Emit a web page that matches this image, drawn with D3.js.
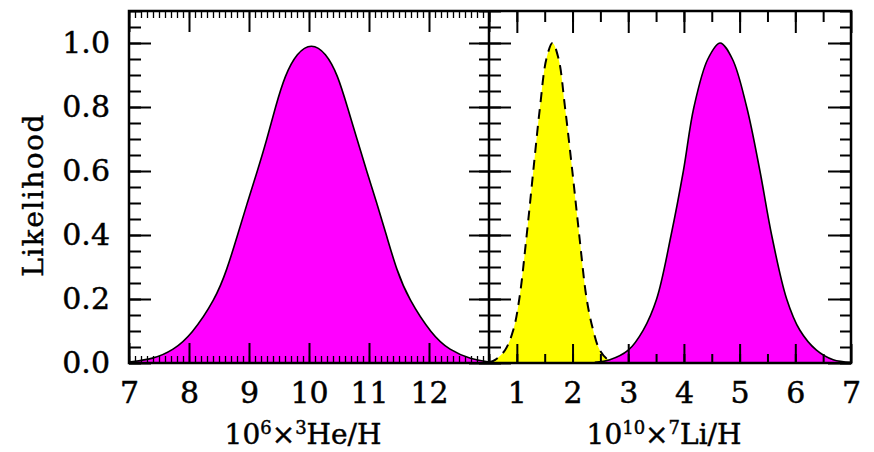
<!DOCTYPE html>
<html>
<head>
<meta charset="utf-8">
<script src="https://cdn.jsdelivr.net/npm/d3@7"></script>
<style>
  body{margin:0;background:#fff;}
  text{font-family:"DejaVu Serif",serif;fill:#000;stroke:#000;stroke-width:0.45px;}
</style>
</head>
<body>
<div id="Chart"></div>
<script>
// left panel: 3He/H likelihood
var heX=[7.0,7.4,7.74,8.04,8.44,8.63,8.81,8.97,9.14,9.3,9.44,9.6,9.8,10.04,10.28,10.48,10.64,10.8,10.96,11.13,11.29,11.46,11.66,12.05,12.34,12.7,13.0]
var heL=[0.003,0.012,0.04,0.088,0.2,0.29,0.4,0.5,0.6,0.7,0.8,0.9,0.97,1.0,0.97,0.9,0.8,0.7,0.6,0.5,0.4,0.29,0.2,0.088,0.04,0.012,0.003]
// right panel: 7Li/H, yellow (dashed) and magenta
var liAX=[0.5,0.61,0.787,0.936,1.044,1.177,1.295,1.416,1.53,1.64,1.75,1.864,1.996,2.12,2.254,2.37,2.49,2.64,2.8]
var liAL=[0.002,0.01,0.04,0.103,0.2,0.4,0.6,0.8,0.95,1.0,0.95,0.8,0.6,0.4,0.2,0.103,0.04,0.01,0.001]
var liBX=[2.4,2.67,3.0,3.27,3.51,3.77,3.99,4.18,4.43,4.65,4.87,5.127,5.365,5.575,5.845,6.08,6.38,6.68,7.0]
var liBL=[0.002,0.01,0.04,0.103,0.2,0.4,0.6,0.8,0.95,1.0,0.95,0.8,0.6,0.4,0.2,0.103,0.04,0.01,0.002]
var leftTicks=[7,8,9,10,11,12]
var rightTicks=[1,2,3,4,5,6,7]
var yTicks=[0,0.2,0.4,0.6,0.8,1.0]

var Width=874,Height=452
var yT=11,yB=363,xa=129,xm=489,xb=851

var svg=d3.select("#Chart").append("svg")
  .attr("width",Width).attr("height",Height)

var Y=d3.scaleLinear().domain([0,1.1]).range([yB,yT])
var X1=d3.scaleLinear().domain([7,13]).range([xa,xm])
var X2=d3.scaleLinear().domain([0.5,7]).range([xm,xb])

var defs=svg.append("defs")
defs.append("clipPath").attr("id","c1").append("rect")
  .attr("x",xa).attr("y",yT).attr("width",xm-xa).attr("height",yB-yT)
defs.append("clipPath").attr("id","c2").append("rect")
  .attr("x",xm).attr("y",yT).attr("width",xb-xm).attr("height",yB-yT)

function curve(g,X,xs,ls,fill,dash,cv){
  var pts=xs.map((d,i)=>[d,ls[i]])
  var area=d3.area().x(d=>X(d[0])).y0(Y(0)).y1(d=>Y(d[1])).curve(cv)
  var line=d3.line().x(d=>X(d[0])).y(d=>Y(d[1])).curve(cv)
  g.append("path").datum(pts).attr("d",area).attr("fill",fill)
  g.append("path").datum(pts).attr("d",line).attr("fill","none")
    .attr("stroke","#000").attr("stroke-width",dash?2:1.6)
    .attr("stroke-dasharray",dash?"10,7":null)
}
var p1=svg.append("g").attr("clip-path","url(#c1)")
curve(p1,X1,heX,heL,"#ff00ff",false,d3.curveBasis)
var p2=svg.append("g").attr("clip-path","url(#c2)")
curve(p2,X2,liAX,liAL,"#ffff00",true,d3.curveCatmullRom.alpha(0.5))
curve(p2,X2,liBX,liBL,"#ff00ff",false,d3.curveCatmullRom.alpha(0.5))

// ticks
function ax(axis,tr,vals,size,w,labels,pad){
  var g=svg.append("g").attr("transform",tr)
    .call(axis.tickValues(vals).tickSizeInner(size).tickSizeOuter(0)
      .tickPadding(pad||0).tickFormat(labels||""))
  g.select(".domain").remove()
  g.selectAll("line").attr("stroke","#000").attr("stroke-width",w)
  g.selectAll("text").attr("font-size",30).attr("font-family","DejaVu Serif")
  return g
}
var minorHe=d3.range(70,131).map(d=>d/10)
var minorLi=d3.range(1,14).map(d=>d/2)
var minorY=d3.range(0,23).map(d=>d*0.05)

// left panel x
ax(d3.axisBottom(X1),`translate(0,${yB})`,minorHe,-7,1.3)
ax(d3.axisBottom(X1),`translate(0,${yB})`,leftTicks,-20,2,d3.format("d"),19)
ax(d3.axisTop(X1),`translate(0,${yT})`,minorHe,-7,1.3)
ax(d3.axisTop(X1),`translate(0,${yT})`,leftTicks.concat([13]),-21,2)
// right panel x
ax(d3.axisBottom(X2),`translate(0,${yB})`,minorLi,-9,2)
ax(d3.axisBottom(X2),`translate(0,${yB})`,rightTicks,-19,2,d3.format("d"),19)
ax(d3.axisTop(X2),`translate(0,${yT})`,minorLi,-11,2)
ax(d3.axisTop(X2),`translate(0,${yT})`,rightTicks,-22,2)
// y ticks
ax(d3.axisLeft(Y),`translate(${xa},0)`,minorY,-12,2)
ax(d3.axisLeft(Y),`translate(${xa},0)`,yTicks,-22,2,d3.format(".1f"),19)
ax(d3.axisRight(Y),`translate(${xm},0)`,minorY,-10,2)
ax(d3.axisRight(Y),`translate(${xm},0)`,yTicks,-20,2)
ax(d3.axisLeft(Y),`translate(${xm},0)`,minorY,-12,2)
ax(d3.axisLeft(Y),`translate(${xm},0)`,yTicks,-22,2)
ax(d3.axisRight(Y),`translate(${xb},0)`,minorY,-11,2)
ax(d3.axisRight(Y),`translate(${xb},0)`,yTicks,-23,2)

// frame
svg.append("rect").attr("x",xa).attr("y",yT).attr("width",xb-xa).attr("height",yB-yT)
  .attr("fill","none").attr("stroke","#000").attr("stroke-width",2.5)
svg.append("line").attr("x1",xm).attr("x2",xm).attr("y1",yT).attr("y2",yB)
  .attr("stroke","#000").attr("stroke-width",2.5)

// axis titles
svg.append("text").attr("transform","translate(43,195)rotate(-90)")
  .attr("text-anchor","middle").attr("font-size",28).attr("letter-spacing",1.5).text("Likelihood")

function title(x,parts){
  var t=svg.append("text").attr("x",x).attr("y",444).attr("text-anchor","middle").attr("font-size",28)
  parts.forEach(p=>{
    t.append("tspan").attr("font-size",p[1]?18:28).attr("dy",p[1]?-10:(p[2]?10:0)).text(p[0])
  })
}
title(303,[["10"],["6",1],["×",0,1],["3",1],["He/H",0,1]])
title(664,[["10"],["10",1],["×",0,1],["7",1],["Li/H",0,1]])
</script>
</body>
</html>
